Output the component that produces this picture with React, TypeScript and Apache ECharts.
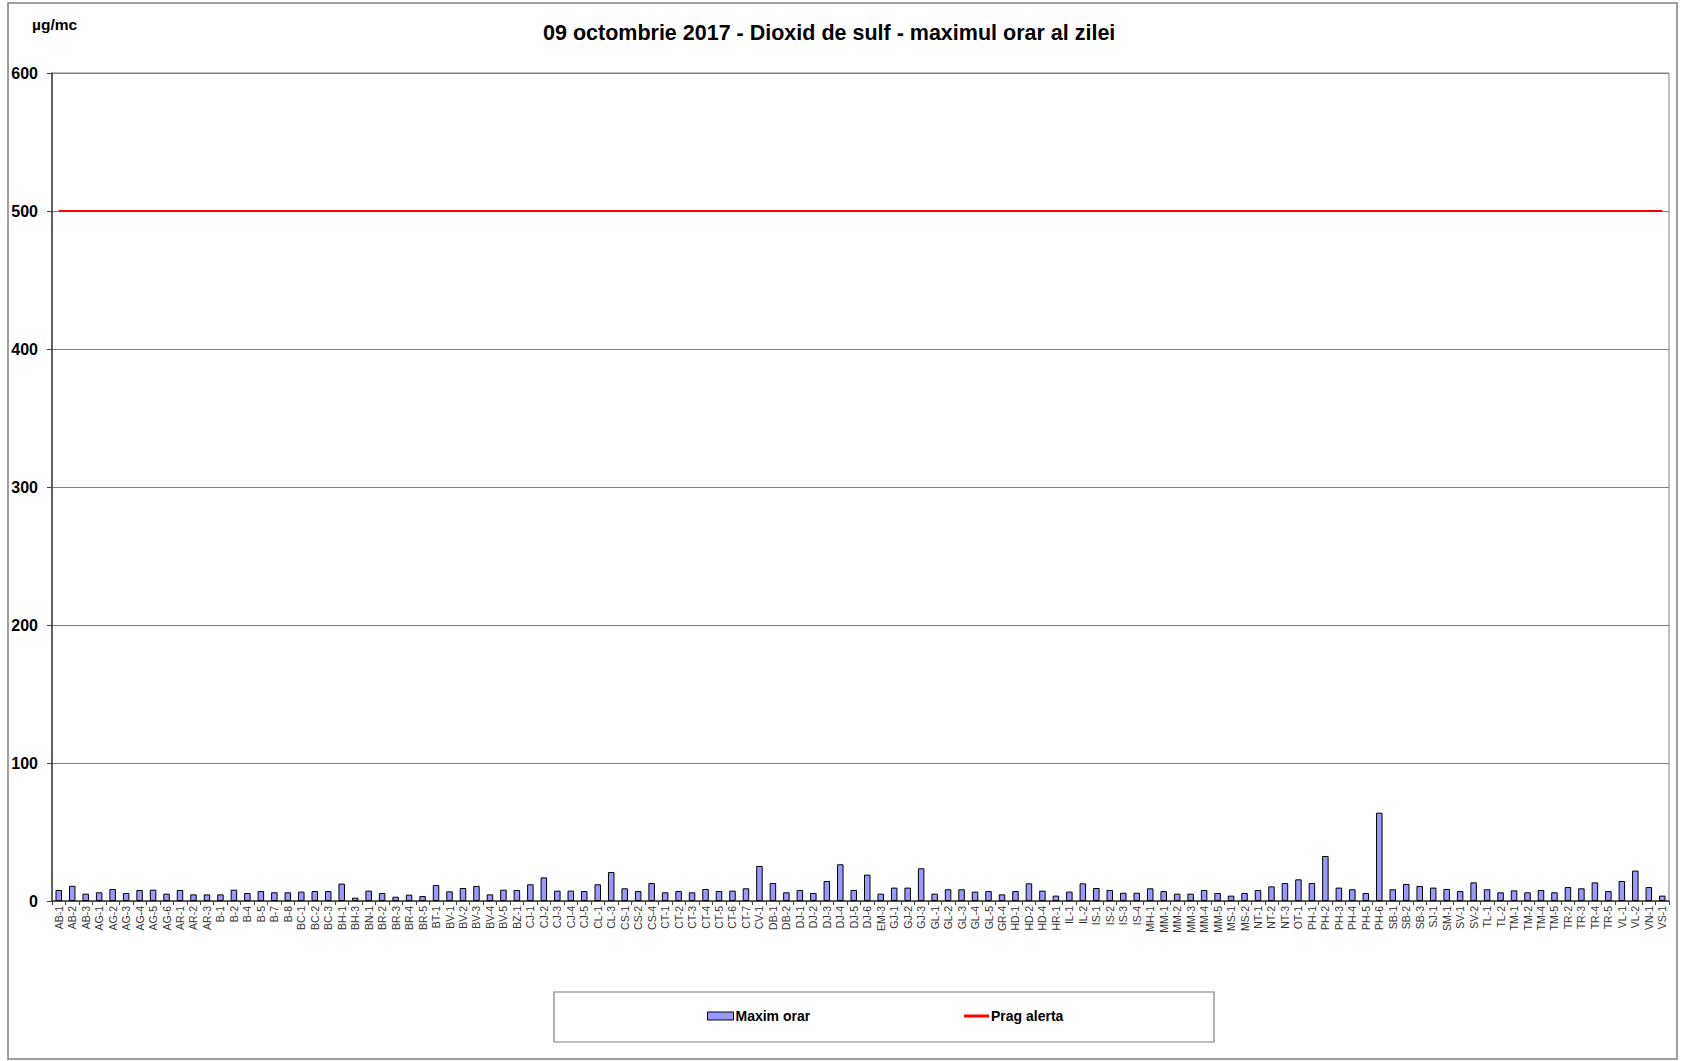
import React, { useEffect, useRef } from "react";
import * as echarts from "echarts";

const categories: string[] = [
  "AB-1","AB-2","AB-3","AG-1","AG-2","AG-3","AG-4","AG-5","AG-6","AR-1",
  "AR-2","AR-3","B-1","B-2","B-4","B-5","B-7","B-8","BC-1","BC-2",
  "BC-3","BH-1","BH-3","BN-1","BR-2","BR-3","BR-4","BR-5","BT-1","BV-1",
  "BV-2","BV-3","BV-4","BV-5","BZ-1","CJ-1","CJ-2","CJ-3","CJ-4","CJ-5",
  "CL-1","CL-3","CS-1","CS-2","CS-4","CT-1","CT-2","CT-3","CT-4","CT-5",
  "CT-6","CT-7","CV-1","DB-1","DB-2","DJ-1","DJ-2","DJ-3","DJ-4","DJ-5",
  "DJ-6","EM-3","GJ-1","GJ-2","GJ-3","GL-1","GL-2","GL-3","GL-4","GL-5",
  "GR-4","HD-1","HD-2","HD-4","HR-1","IL-1","IL-2","IS-1","IS-2","IS-3",
  "IS-4","MH-1","MM-1","MM-2","MM-3","MM-4","MM-5","MS-1","MS-2","NT-1",
  "NT-2","NT-3","OT-1","PH-1","PH-2","PH-3","PH-4","PH-5","PH-6","SB-1",
  "SB-2","SB-3","SJ-1","SM-1","SV-1","SV-2","TL-1","TL-2","TM-1","TM-2",
  "TM-4","TM-5","TR-2","TR-3","TR-4","TR-5","VL-1","VL-2","VN-1","VS-1",
];

const maximOrar: number[] = [
  8, 11, 5.3, 6.3, 8.7, 5.8, 8, 8.2, 5.3, 8,
  4.8, 4.8, 4.8, 8.2, 5.8, 7.2, 6.3, 6.3, 6.8, 7.2,
  7.2, 12.6, 2.4, 7.5, 5.8, 3.1, 4.6, 3.6, 11.6, 7,
  9.4, 10.9, 4.8, 8.2, 8, 12.1, 17.1, 7.5, 7.5, 7.2,
  12.1, 21, 9.2, 7.2, 13, 6.3, 7.2, 6.3, 8.7, 7.2,
  7.5, 9.2, 25.4, 13, 6.3, 8, 5.8, 14.5, 26.6, 8,
  19.1, 5.3, 9.7, 9.7, 23.7, 5.3, 8.5, 8.5, 6.8, 7.2,
  4.8, 7.2, 12.8, 7.5, 3.9, 6.8, 12.8, 9.4, 8, 6,
  6, 9.2, 7.2, 5.3, 5.3, 8, 5.8, 3.9, 5.8, 8,
  10.6, 13, 15.7, 13, 32.6, 9.7, 8.5, 5.8, 64, 8.5,
  12.3, 10.9, 9.7, 8.7, 7.2, 13.5, 8.5, 6.3, 7.7, 6.3,
  8, 6.3, 10.1, 9.2, 13.5, 7.2, 14.5, 22, 10.1, 3.9,
];

const PRAG_ALERTA = 500;
const yTicks = { min: 0, max: 600, interval: 100 };

const TITLE = "09 octombrie 2017 - Dioxid de sulf - maximul orar al zilei";
const UNIT = "µg/mc";
const FONT = 'Arial, "Liberation Sans", sans-serif';

export default function App() {
  const ref = useRef<HTMLDivElement>(null);

  useEffect(() => {
    if (!ref.current) return;
    const chart = echarts.init(ref.current, null, { renderer: "svg" });
    const pragData = categories.map(() => PRAG_ALERTA);
    chart.setOption({
      animation: false,
      backgroundColor: "#ffffff",
      textStyle: { fontFamily: FONT },
      title: [
        {
          text: TITLE,
          left: 543,
          top: 22,
          padding: 0,
          textStyle: { fontSize: 21.5, fontWeight: "bold", color: "#000", fontFamily: FONT },
        },
        {
          text: UNIT,
          left: 32,
          top: 16,
          padding: 0,
          textStyle: { fontSize: 15.5, fontWeight: "bold", color: "#000", fontFamily: FONT },
        },
      ],
      graphic: [
        {
          type: "rect",
          shape: { x: 8, y: 3, width: 1669, height: 1056 },
          style: { fill: "none", stroke: "#808080", lineWidth: 1.5 },
          silent: true,
          z: -1,
        },
        {
          type: "rect",
          shape: { x: 554, y: 992, width: 660, height: 50 },
          style: { fill: "none", stroke: "#808080", lineWidth: 1.2 },
          silent: true,
        },
      ],
      legend: [
        {
          left: 707,
          top: 1009,
          padding: 0,
          itemGap: 0,
          itemWidth: 26,
          itemHeight: 8,
          textStyle: { fontSize: 14, fontWeight: "bold", color: "#000", fontFamily: FONT, padding: [0, 0, 0, -3] },
          data: [
            { name: "Maxim orar", icon: "rect", itemStyle: { color: "#9999FF", borderColor: "#000", borderWidth: 1 } },
          ],
        },
        {
          left: 964,
          top: 1009,
          padding: 0,
          itemGap: 0,
          itemWidth: 25,
          itemHeight: 3,
          textStyle: { fontSize: 14, fontWeight: "bold", color: "#000", fontFamily: FONT, padding: [0, 0, 0, -3] },
          data: [
            { name: "Prag alerta", icon: "rect", itemStyle: { color: "#FF0000", borderWidth: 0 } },
          ],
        },
      ],
      grid: {
        left: 52,
        right: 17,
        top: 73,
        bottom: 160,
        show: true,
        borderColor: "#808080",
        borderWidth: 1,
        containLabel: false,
      },
      xAxis: {
        type: "category",
        data: categories,
        boundaryGap: true,
        axisLine: { show: true, lineStyle: { color: "#404040", width: 1.5 } },
        axisTick: { show: true, alignWithLabel: false, length: 4, lineStyle: { color: "#404040" } },
        axisLabel: {
          interval: 0,
          rotate: 90,
          fontSize: 10.5,
          color: "#333",
          margin: 5,
          fontFamily: FONT,
        },
        splitLine: { show: false },
      },
      yAxis: {
        type: "value",
        min: yTicks.min,
        max: yTicks.max,
        interval: yTicks.interval,
        axisLine: { show: true, lineStyle: { color: "#404040", width: 1.5 } },
        axisTick: { show: true, inside: false, length: 5, lineStyle: { color: "#404040" } },
        axisLabel: {
          fontSize: 16,
          fontWeight: "bold",
          color: "#000",
          margin: 14,
          fontFamily: FONT,
        },
        splitLine: { show: true, lineStyle: { color: "#808080", width: 1 } },
      },
      series: [
        {
          name: "Maxim orar",
          type: "bar",
          data: maximOrar,
          barWidth: 6.5,
          itemStyle: { color: "#9999FF", borderColor: "#000", borderWidth: 1 },
          z: 3,
        },
        {
          name: "Prag alerta",
          type: "line",
          data: pragData,
          symbol: "none",
          showSymbol: false,
          lineStyle: { color: "#FF0000", width: 2.2 },
          itemStyle: { color: "#FF0000" },
          z: 4,
        },
      ],
    });
    return () => chart.dispose();
  }, []);

  return (
    <div
      ref={ref}
      style={{ position: "absolute", left: 0, top: 0, width: 1686, height: 1061 }}
    />
  );
}
